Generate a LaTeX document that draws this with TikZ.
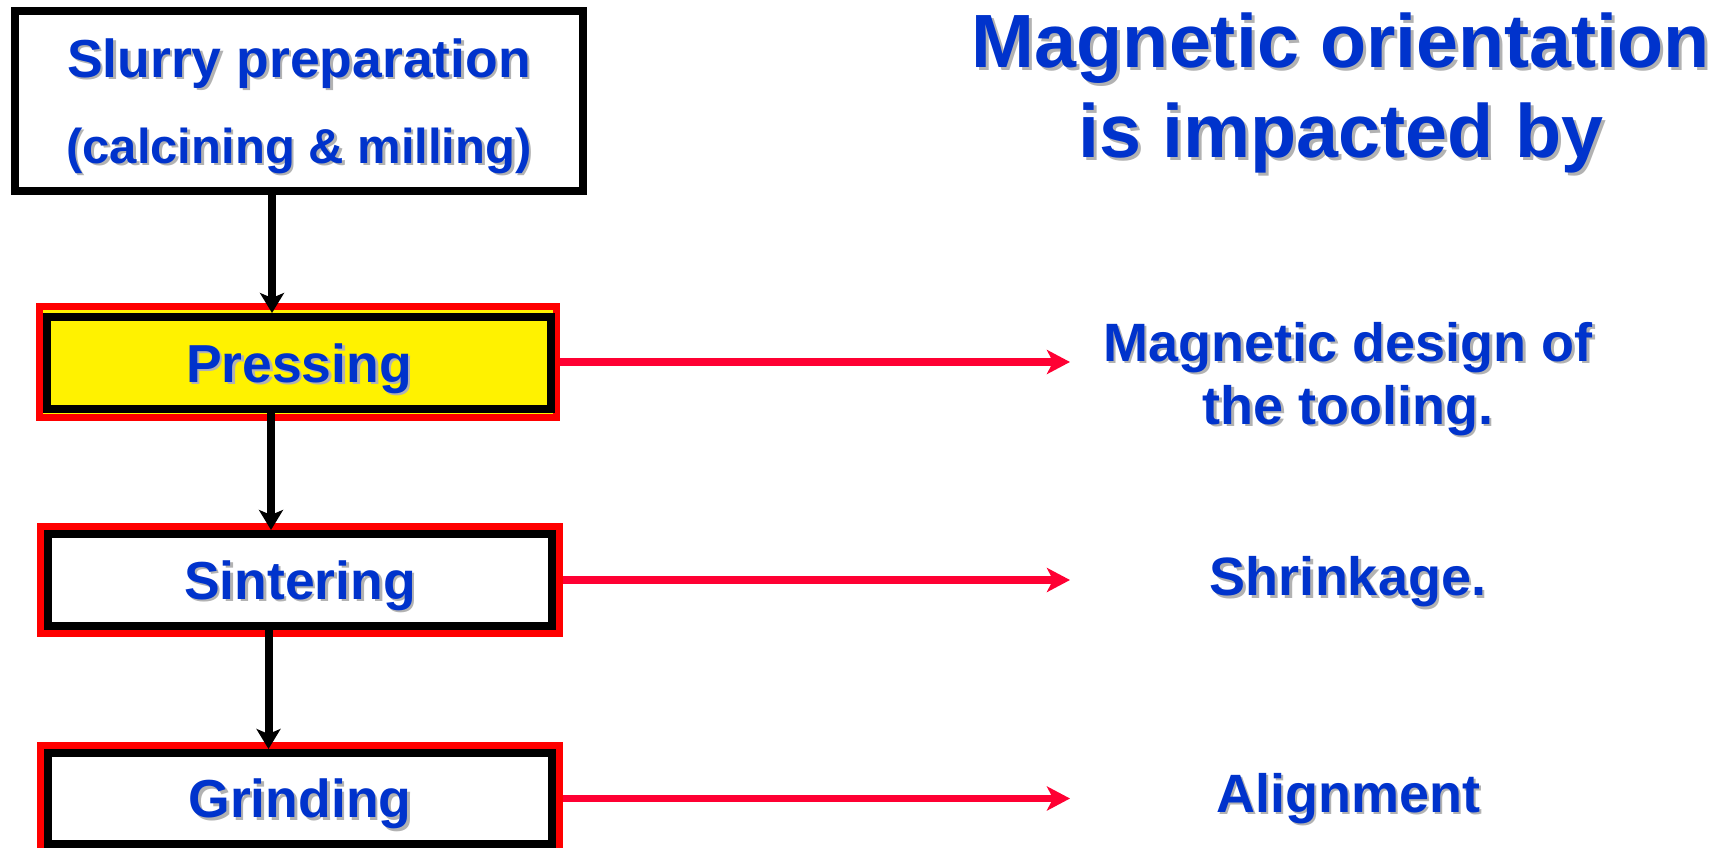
\documentclass[tikz,border=0pt]{standalone}
\usepackage{fontspec}
\setmainfont{Liberation Sans}
\usetikzlibrary{arrows.meta}
\definecolor{txtblue}{RGB}{0,51,204}
\definecolor{arrred}{RGB}{255,0,51}
\definecolor{shadowgray}{RGB}{178,178,178}
\newcommand\shadowed[1]{\leavevmode\rlap{\kern2.5pt\raisebox{-2.5pt}{\textcolor{shadowgray}{#1}}}#1}
\newcommand\titleshadowed[1]{\leavevmode\rlap{\kern3pt\raisebox{-3pt}{\textcolor{shadowgray}{#1}}}#1}
\tikzset{
  boxstyle/.style={draw=black, line width=8pt, minimum width=504pt, minimum height=92pt,
    inner sep=0pt, text=txtblue, font=\fontsize{53.5}{86}\selectfont\bfseries},
  oneline/.style={text height=38.3pt, text depth=0pt},
  framestyle/.style={draw=red, line width=7pt, minimum width=519pt, minimum height=107pt, inner sep=0pt},
  flow/.style={-{Stealth[length=20pt,width=24pt,inset=5pt]}, line width=8pt, draw=black},
  infl/.style={-{Stealth[length=23pt,width=24pt,inset=6pt]}, line width=7.5pt, draw=arrred},
  lbl/.style={text=txtblue, font=\fontsize{54}{63}\selectfont\bfseries, align=center, inner sep=0pt, text depth=0pt},
  titlestyle/.style={text=txtblue, font=\fontsize{75.5}{90}\selectfont\bfseries, align=center, inner sep=0pt, text depth=0pt}
}
\begin{document}
\begin{tikzpicture}[x=1pt,y=-1pt]
\fill[white] (0,0) rectangle (1715,848);
\useasboundingbox (0,0) rectangle (1715,848);

% process boxes
\node[boxstyle, minimum width=568pt, minimum height=180pt, align=center, text depth=0pt, fill=white] (slurry) at (299,101)
  {\shadowed{Slurry preparation}\\{\fontsize{49}{86}\selectfont\shadowed{(calcining \& milling)}}};

\node[framestyle, fill=yellow, minimum width=517pt, minimum height=111pt] (pressF) at (298,362) {};
\node[boxstyle, oneline, fill=yellow] (press) at (299,363) {\shadowed{Pressing}};

\node[framestyle, fill=white] (sintF) at (300,580) {};
\node[boxstyle, oneline, fill=white] (sint) at (300,580) {\shadowed{Sintering}};

\node[framestyle, fill=white] (grindF) at (300,798.5) {};
\node[boxstyle, oneline, fill=white, minimum height=91pt] (grind) at (300,798.5) {\shadowed{Grinding}};

% flow arrows
\draw[flow] ([xshift=-27pt]slurry.south) -- ([xshift=-27pt]press.north);
\draw[flow] ([xshift=-28pt]press.south) -- ([xshift=-28pt]press.south |- sint.north);
\draw[flow] ([xshift=-31.5pt]sint.south) -- ([xshift=-31.5pt]sint.south |- grind.north);

% right side labels
\node[titlestyle] (title) at (1341,85)
  {\titleshadowed{Magnetic orientation}\\\titleshadowed{is impacted by}};
\node[lbl] (tooling) at (1348,373) {\shadowed{Magnetic design of}\\\shadowed{the tooling.}};
\node[lbl, text height=38.7pt] (shrink) at (1348,576.5) {\shadowed{Shrinkage.}};
\node[lbl, text height=38.7pt] (align) at (1348,793) {\shadowed{Alignment}};

% influence arrows
\coordinate (tipx) at (1070,0);
\draw[infl] (pressF.east) -- (pressF.east -| tipx);
\draw[infl] (sintF.east) -- (sintF.east -| tipx);
\draw[infl] (grindF.east) -- (grindF.east -| tipx);
\end{tikzpicture}
\end{document}
